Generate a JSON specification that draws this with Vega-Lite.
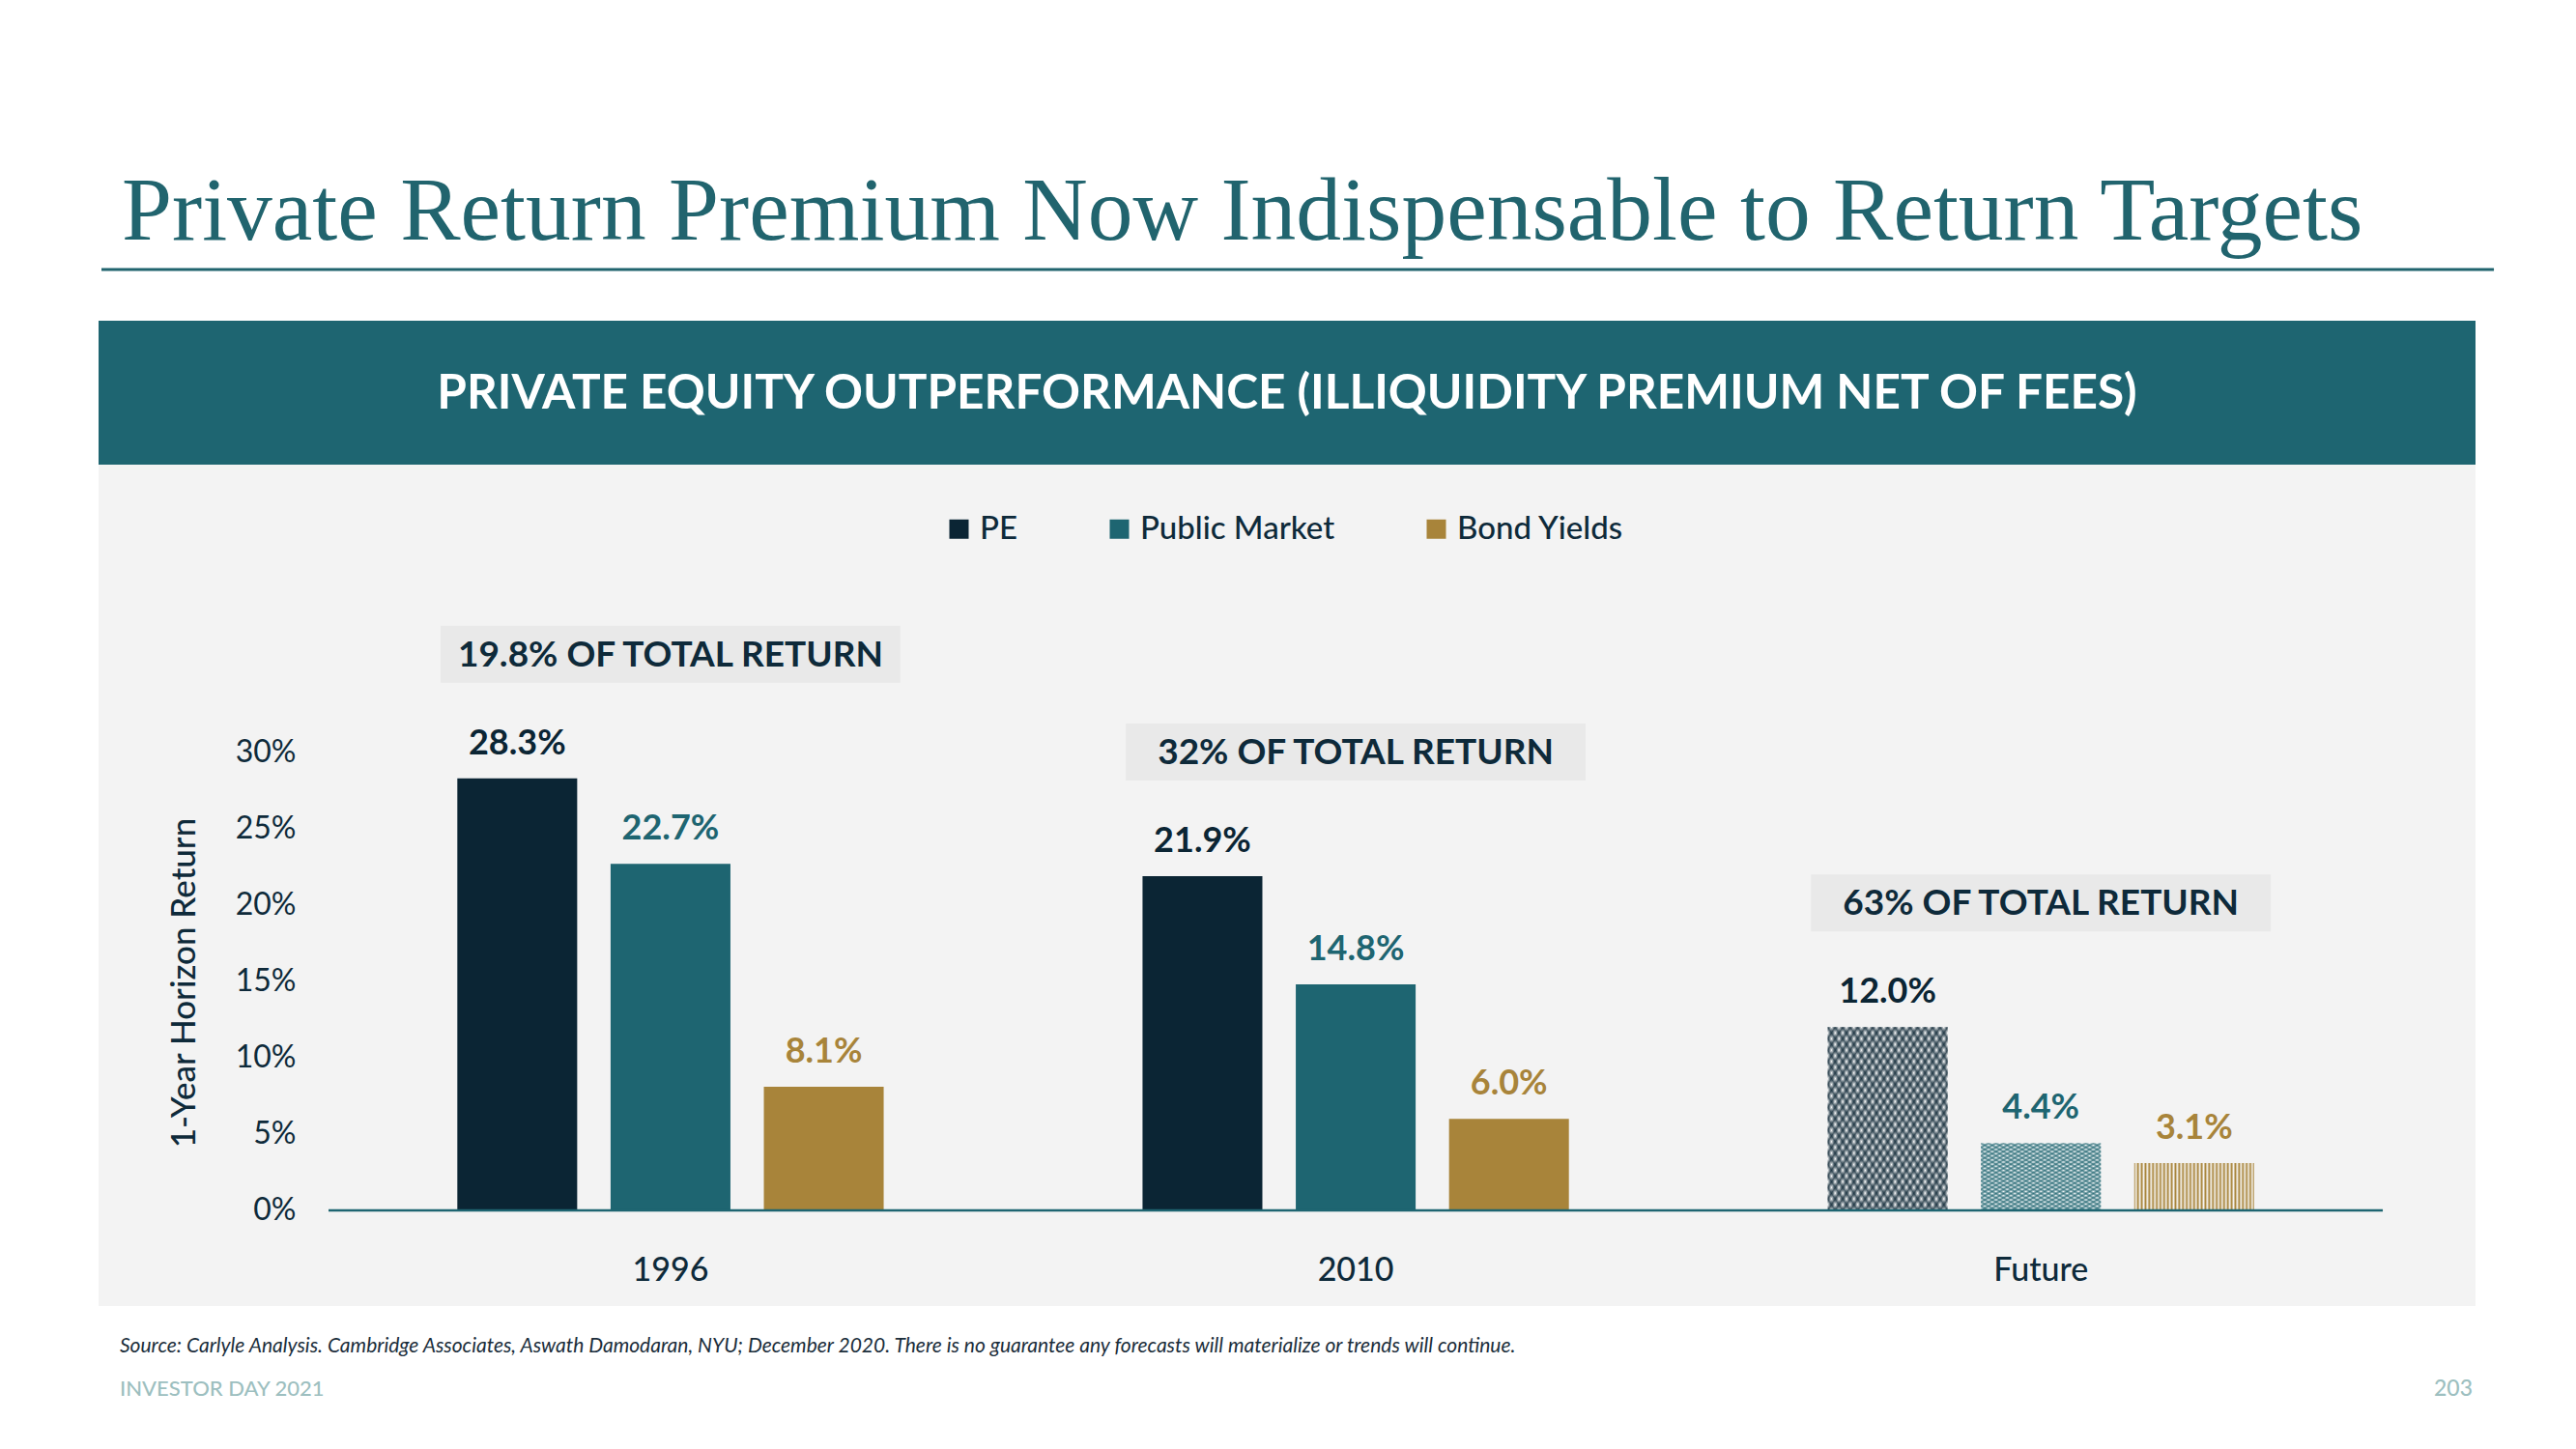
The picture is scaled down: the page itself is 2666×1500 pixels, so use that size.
{
"$schema":"https://vega.github.io/schema/vega-lite/v6.json",
"width":2460,"height":871,
"autosize":{"type":"none"},
"padding":{"left":102,"top":481,"right":104,"bottom":148},
"background":"#ffffff",
"title":{"text":"Private Return Premium Now Indispensable to Return Targets","anchor":"start","frame":"group","font":"Liberation Serif","fontSize":93.5,"fontWeight":"normal","color":"#21646e","dx":24,"offset":10},
"datasets":{
"returns":[
{"period":"1996","series":"PE","value":0.283,"note":"19.8% OF TOTAL RETURN"},
{"period":"1996","series":"Public Market","value":0.227,"note":"19.8% OF TOTAL RETURN"},
{"period":"1996","series":"Bond Yields","value":0.081,"note":"19.8% OF TOTAL RETURN"},
{"period":"2010","series":"PE","value":0.219,"note":"32% OF TOTAL RETURN"},
{"period":"2010","series":"Public Market","value":0.148,"note":"32% OF TOTAL RETURN"},
{"period":"2010","series":"Bond Yields","value":0.06,"note":"32% OF TOTAL RETURN"},
{"period":"Future","series":"PE","value":0.12,"note":"63% OF TOTAL RETURN"},
{"period":"Future","series":"Public Market","value":0.044,"note":"63% OF TOTAL RETURN"},
{"period":"Future","series":"Bond Yields","value":0.031,"note":"63% OF TOTAL RETURN"}
],
"deco":[{}]
},
"data":{"name":"returns"},
"layer":[
{"data":{"name":"deco"},"mark":{"type":"rect","color":"#1e6571"},"encoding":{"y":{"datum":0.4886,"type":"quantitative"},"y2":{"datum":0.5829}}},
{"data":{"name":"deco"},"mark":{"type":"rule","color":"#21646e","strokeWidth":3},"encoding":{"x":{"datum":"1996","type":"nominal","bandPosition":-0.7377},"x2":{"datum":"Future","bandPosition":1.4853},"y":{"datum":0.6165,"type":"quantitative"}}},
{"data":{"name":"deco"},"mark":{"type":"text","text":"PRIVATE EQUITY OUTPERFORMANCE (ILLIQUIDITY PREMIUM NET OF FEES)","color":"#ffffff","font":"Lato","fontWeight":"bold","fontSize":49.5,"baseline":"middle","align":"center","dy":2},"encoding":{"y":{"datum":0.5358,"type":"quantitative"}}},
{"transform":[{"aggregate":[{"op":"max","field":"value","as":"top"}],"groupby":["period","note"]}],
 "mark":{"type":"rect","color":"#e9e9e9","yOffset":-99,"y2Offset":-158},
 "encoding":{"x":{"field":"period","type":"nominal"},"y":{"field":"top","type":"quantitative"},"y2":{"field":"top"}}},
{"transform":[{"aggregate":[{"op":"max","field":"value","as":"top"}],"groupby":["period","note"]}],
 "mark":{"type":"text","color":"#0e2a3a","font":"Lato","fontWeight":"bold","fontSize":37,"baseline":"middle","align":"center","dy":-127},
 "encoding":{"x":{"field":"period","type":"nominal"},"y":{"field":"top","type":"quantitative"},"text":{"field":"note"}}},
{"transform":[{"filter":"datum.period !== 'Future'"}],
 "mark":{"type":"bar"},
 "encoding":{
  "x":{"field":"period","type":"nominal","scale":{"domain":["1996","2010","Future"],"paddingInner":0.329,"paddingOuter":0.399,"align":0.6256},
   "axis":{"title":null,"orient":"bottom","offset":-99,"domain":false,"ticks":false,"tickSize":0,"grid":false,"labelPadding":62,"labelBaseline":"middle","labelAlign":"center","labelAngle":0,"labelFont":"Lato","labelFontSize":34,"labelFontWeight":500,"labelColor":"#0e2a3a"}},
  "xOffset":{"field":"series","type":"nominal","scale":{"domain":["PE","Public Market","Bond Yields"],"paddingInner":0.218,"paddingOuter":0.109}},
  "y":{"field":"value","type":"quantitative","scale":{"domain":[-0.0627,0.4886],"nice":false,"zero":false},
   "axis":{"title":"1-Year Horizon Return","values":[0,0.05,0.1,0.15,0.2,0.25,0.3],"format":".0%","offset":-204,"domain":false,"ticks":false,"tickSize":0,"grid":false,"labelPadding":0,"labelFont":"Lato","labelFontSize":32,"labelColor":"#0e2a3a","titleFont":"Lato","titleFontSize":35,"titleFontWeight":500,"titleColor":"#0e2a3a","titleAngle":-90,"titleX":-116,"titleY":536,"titleAlign":"center","titleBaseline":"middle"}},
  "color":{"field":"series","type":"nominal","scale":{"domain":["PE","Public Market","Bond Yields"],"range":["#0b2534","#1e6571","#a8843a"]},
   "legend":{"title":null,"orient":"none","legendX":874,"legendY":50,"direction":"horizontal","columns":3,"symbolType":"square","symbolSize":400,"symbolStrokeWidth":0,"labelFont":"Lato","labelFontSize":33,"labelFontWeight":500,"labelColor":"#0e2a3a","labelOffset":5,"columnPadding":88,"padding":0,"labelLimit":400}}
 }},
{"transform":[{"filter":"datum.period === 'Future'"}],
 "mark":{"type":"bar"},
 "encoding":{
  "x":{"field":"period","type":"nominal"},
  "xOffset":{"field":"series","type":"nominal"},
  "y":{"field":"value","type":"quantitative"},
  "fill":{"condition":[
   {"test":"datum.series === 'PE'","value":{"gradient":"linear","x1":0,"y1":0,"x2":1,"y2":1,"stops":[{"offset":0,"color":"#4e5f69"},{"offset":0.016,"color":"#fff"},{"offset":0.031,"color":"#4e5f69"},{"offset":0.047,"color":"#fff"},{"offset":0.063,"color":"#4e5f69"},{"offset":0.078,"color":"#fff"},{"offset":0.094,"color":"#4e5f69"},{"offset":0.109,"color":"#fff"},{"offset":0.125,"color":"#4e5f69"},{"offset":0.141,"color":"#fff"},{"offset":0.156,"color":"#4e5f69"},{"offset":0.172,"color":"#fff"},{"offset":0.188,"color":"#4e5f69"},{"offset":0.203,"color":"#fff"},{"offset":0.219,"color":"#4e5f69"},{"offset":0.234,"color":"#fff"},{"offset":0.25,"color":"#4e5f69"},{"offset":0.266,"color":"#fff"},{"offset":0.281,"color":"#4e5f69"},{"offset":0.297,"color":"#fff"},{"offset":0.313,"color":"#4e5f69"},{"offset":0.328,"color":"#fff"},{"offset":0.344,"color":"#4e5f69"},{"offset":0.359,"color":"#fff"},{"offset":0.375,"color":"#4e5f69"},{"offset":0.391,"color":"#fff"},{"offset":0.406,"color":"#4e5f69"},{"offset":0.422,"color":"#fff"},{"offset":0.438,"color":"#4e5f69"},{"offset":0.453,"color":"#fff"},{"offset":0.469,"color":"#4e5f69"},{"offset":0.484,"color":"#fff"},{"offset":0.5,"color":"#4e5f69"},{"offset":0.516,"color":"#fff"},{"offset":0.531,"color":"#4e5f69"},{"offset":0.547,"color":"#fff"},{"offset":0.563,"color":"#4e5f69"},{"offset":0.578,"color":"#fff"},{"offset":0.594,"color":"#4e5f69"},{"offset":0.609,"color":"#fff"},{"offset":0.625,"color":"#4e5f69"},{"offset":0.641,"color":"#fff"},{"offset":0.656,"color":"#4e5f69"},{"offset":0.672,"color":"#fff"},{"offset":0.688,"color":"#4e5f69"},{"offset":0.703,"color":"#fff"},{"offset":0.719,"color":"#4e5f69"},{"offset":0.734,"color":"#fff"},{"offset":0.75,"color":"#4e5f69"},{"offset":0.766,"color":"#fff"},{"offset":0.781,"color":"#4e5f69"},{"offset":0.797,"color":"#fff"},{"offset":0.813,"color":"#4e5f69"},{"offset":0.828,"color":"#fff"},{"offset":0.844,"color":"#4e5f69"},{"offset":0.859,"color":"#fff"},{"offset":0.875,"color":"#4e5f69"},{"offset":0.891,"color":"#fff"},{"offset":0.906,"color":"#4e5f69"},{"offset":0.922,"color":"#fff"},{"offset":0.938,"color":"#4e5f69"},{"offset":0.953,"color":"#fff"},{"offset":0.969,"color":"#4e5f69"},{"offset":0.984,"color":"#fff"},{"offset":1,"color":"#4e5f69"}]}},
   {"test":"datum.series === 'Public Market'","value":{"gradient":"linear","x1":0,"y1":0,"x2":1,"y2":1,"stops":[{"offset":0,"color":"#5d8d95"},{"offset":0.016,"color":"#fff"},{"offset":0.031,"color":"#5d8d95"},{"offset":0.047,"color":"#fff"},{"offset":0.063,"color":"#5d8d95"},{"offset":0.078,"color":"#fff"},{"offset":0.094,"color":"#5d8d95"},{"offset":0.109,"color":"#fff"},{"offset":0.125,"color":"#5d8d95"},{"offset":0.141,"color":"#fff"},{"offset":0.156,"color":"#5d8d95"},{"offset":0.172,"color":"#fff"},{"offset":0.188,"color":"#5d8d95"},{"offset":0.203,"color":"#fff"},{"offset":0.219,"color":"#5d8d95"},{"offset":0.234,"color":"#fff"},{"offset":0.25,"color":"#5d8d95"},{"offset":0.266,"color":"#fff"},{"offset":0.281,"color":"#5d8d95"},{"offset":0.297,"color":"#fff"},{"offset":0.313,"color":"#5d8d95"},{"offset":0.328,"color":"#fff"},{"offset":0.344,"color":"#5d8d95"},{"offset":0.359,"color":"#fff"},{"offset":0.375,"color":"#5d8d95"},{"offset":0.391,"color":"#fff"},{"offset":0.406,"color":"#5d8d95"},{"offset":0.422,"color":"#fff"},{"offset":0.438,"color":"#5d8d95"},{"offset":0.453,"color":"#fff"},{"offset":0.469,"color":"#5d8d95"},{"offset":0.484,"color":"#fff"},{"offset":0.5,"color":"#5d8d95"},{"offset":0.516,"color":"#fff"},{"offset":0.531,"color":"#5d8d95"},{"offset":0.547,"color":"#fff"},{"offset":0.563,"color":"#5d8d95"},{"offset":0.578,"color":"#fff"},{"offset":0.594,"color":"#5d8d95"},{"offset":0.609,"color":"#fff"},{"offset":0.625,"color":"#5d8d95"},{"offset":0.641,"color":"#fff"},{"offset":0.656,"color":"#5d8d95"},{"offset":0.672,"color":"#fff"},{"offset":0.688,"color":"#5d8d95"},{"offset":0.703,"color":"#fff"},{"offset":0.719,"color":"#5d8d95"},{"offset":0.734,"color":"#fff"},{"offset":0.75,"color":"#5d8d95"},{"offset":0.766,"color":"#fff"},{"offset":0.781,"color":"#5d8d95"},{"offset":0.797,"color":"#fff"},{"offset":0.813,"color":"#5d8d95"},{"offset":0.828,"color":"#fff"},{"offset":0.844,"color":"#5d8d95"},{"offset":0.859,"color":"#fff"},{"offset":0.875,"color":"#5d8d95"},{"offset":0.891,"color":"#fff"},{"offset":0.906,"color":"#5d8d95"},{"offset":0.922,"color":"#fff"},{"offset":0.938,"color":"#5d8d95"},{"offset":0.953,"color":"#fff"},{"offset":0.969,"color":"#5d8d95"},{"offset":0.984,"color":"#fff"},{"offset":1,"color":"#5d8d95"}]}}],
   "value":{"gradient":"linear","x1":0,"y1":0,"x2":1,"y2":0,"stops":[{"offset":0,"color":"#a8843a"},{"offset":0.016,"color":"#f5f3ef"},{"offset":0.031,"color":"#a8843a"},{"offset":0.047,"color":"#f5f3ef"},{"offset":0.063,"color":"#a8843a"},{"offset":0.078,"color":"#f5f3ef"},{"offset":0.094,"color":"#a8843a"},{"offset":0.109,"color":"#f5f3ef"},{"offset":0.125,"color":"#a8843a"},{"offset":0.141,"color":"#f5f3ef"},{"offset":0.156,"color":"#a8843a"},{"offset":0.172,"color":"#f5f3ef"},{"offset":0.188,"color":"#a8843a"},{"offset":0.203,"color":"#f5f3ef"},{"offset":0.219,"color":"#a8843a"},{"offset":0.234,"color":"#f5f3ef"},{"offset":0.25,"color":"#a8843a"},{"offset":0.266,"color":"#f5f3ef"},{"offset":0.281,"color":"#a8843a"},{"offset":0.297,"color":"#f5f3ef"},{"offset":0.313,"color":"#a8843a"},{"offset":0.328,"color":"#f5f3ef"},{"offset":0.344,"color":"#a8843a"},{"offset":0.359,"color":"#f5f3ef"},{"offset":0.375,"color":"#a8843a"},{"offset":0.391,"color":"#f5f3ef"},{"offset":0.406,"color":"#a8843a"},{"offset":0.422,"color":"#f5f3ef"},{"offset":0.438,"color":"#a8843a"},{"offset":0.453,"color":"#f5f3ef"},{"offset":0.469,"color":"#a8843a"},{"offset":0.484,"color":"#f5f3ef"},{"offset":0.5,"color":"#a8843a"},{"offset":0.516,"color":"#f5f3ef"},{"offset":0.531,"color":"#a8843a"},{"offset":0.547,"color":"#f5f3ef"},{"offset":0.563,"color":"#a8843a"},{"offset":0.578,"color":"#f5f3ef"},{"offset":0.594,"color":"#a8843a"},{"offset":0.609,"color":"#f5f3ef"},{"offset":0.625,"color":"#a8843a"},{"offset":0.641,"color":"#f5f3ef"},{"offset":0.656,"color":"#a8843a"},{"offset":0.672,"color":"#f5f3ef"},{"offset":0.688,"color":"#a8843a"},{"offset":0.703,"color":"#f5f3ef"},{"offset":0.719,"color":"#a8843a"},{"offset":0.734,"color":"#f5f3ef"},{"offset":0.75,"color":"#a8843a"},{"offset":0.766,"color":"#f5f3ef"},{"offset":0.781,"color":"#a8843a"},{"offset":0.797,"color":"#f5f3ef"},{"offset":0.813,"color":"#a8843a"},{"offset":0.828,"color":"#f5f3ef"},{"offset":0.844,"color":"#a8843a"},{"offset":0.859,"color":"#f5f3ef"},{"offset":0.875,"color":"#a8843a"},{"offset":0.891,"color":"#f5f3ef"},{"offset":0.906,"color":"#a8843a"},{"offset":0.922,"color":"#f5f3ef"},{"offset":0.938,"color":"#a8843a"},{"offset":0.953,"color":"#f5f3ef"},{"offset":0.969,"color":"#a8843a"},{"offset":0.984,"color":"#f5f3ef"},{"offset":1,"color":"#a8843a"}]}}
 }},
{"transform":[{"filter":"datum.period === 'Future' && datum.series !== 'Bond Yields'"}],
 "mark":{"type":"bar"},
 "encoding":{
  "x":{"field":"period","type":"nominal"},
  "xOffset":{"field":"series","type":"nominal"},
  "y":{"field":"value","type":"quantitative"},
  "fill":{"condition":{"test":"datum.series === 'PE'","value":{"gradient":"linear","x1":1,"y1":0,"x2":0,"y2":1,"stops":[{"offset":0,"color":"rgba(11,37,52,0.7)"},{"offset":0.016,"color":"rgba(11,37,52,0)"},{"offset":0.031,"color":"rgba(11,37,52,0.7)"},{"offset":0.047,"color":"rgba(11,37,52,0)"},{"offset":0.063,"color":"rgba(11,37,52,0.7)"},{"offset":0.078,"color":"rgba(11,37,52,0)"},{"offset":0.094,"color":"rgba(11,37,52,0.7)"},{"offset":0.109,"color":"rgba(11,37,52,0)"},{"offset":0.125,"color":"rgba(11,37,52,0.7)"},{"offset":0.141,"color":"rgba(11,37,52,0)"},{"offset":0.156,"color":"rgba(11,37,52,0.7)"},{"offset":0.172,"color":"rgba(11,37,52,0)"},{"offset":0.188,"color":"rgba(11,37,52,0.7)"},{"offset":0.203,"color":"rgba(11,37,52,0)"},{"offset":0.219,"color":"rgba(11,37,52,0.7)"},{"offset":0.234,"color":"rgba(11,37,52,0)"},{"offset":0.25,"color":"rgba(11,37,52,0.7)"},{"offset":0.266,"color":"rgba(11,37,52,0)"},{"offset":0.281,"color":"rgba(11,37,52,0.7)"},{"offset":0.297,"color":"rgba(11,37,52,0)"},{"offset":0.313,"color":"rgba(11,37,52,0.7)"},{"offset":0.328,"color":"rgba(11,37,52,0)"},{"offset":0.344,"color":"rgba(11,37,52,0.7)"},{"offset":0.359,"color":"rgba(11,37,52,0)"},{"offset":0.375,"color":"rgba(11,37,52,0.7)"},{"offset":0.391,"color":"rgba(11,37,52,0)"},{"offset":0.406,"color":"rgba(11,37,52,0.7)"},{"offset":0.422,"color":"rgba(11,37,52,0)"},{"offset":0.438,"color":"rgba(11,37,52,0.7)"},{"offset":0.453,"color":"rgba(11,37,52,0)"},{"offset":0.469,"color":"rgba(11,37,52,0.7)"},{"offset":0.484,"color":"rgba(11,37,52,0)"},{"offset":0.5,"color":"rgba(11,37,52,0.7)"},{"offset":0.516,"color":"rgba(11,37,52,0)"},{"offset":0.531,"color":"rgba(11,37,52,0.7)"},{"offset":0.547,"color":"rgba(11,37,52,0)"},{"offset":0.563,"color":"rgba(11,37,52,0.7)"},{"offset":0.578,"color":"rgba(11,37,52,0)"},{"offset":0.594,"color":"rgba(11,37,52,0.7)"},{"offset":0.609,"color":"rgba(11,37,52,0)"},{"offset":0.625,"color":"rgba(11,37,52,0.7)"},{"offset":0.641,"color":"rgba(11,37,52,0)"},{"offset":0.656,"color":"rgba(11,37,52,0.7)"},{"offset":0.672,"color":"rgba(11,37,52,0)"},{"offset":0.688,"color":"rgba(11,37,52,0.7)"},{"offset":0.703,"color":"rgba(11,37,52,0)"},{"offset":0.719,"color":"rgba(11,37,52,0.7)"},{"offset":0.734,"color":"rgba(11,37,52,0)"},{"offset":0.75,"color":"rgba(11,37,52,0.7)"},{"offset":0.766,"color":"rgba(11,37,52,0)"},{"offset":0.781,"color":"rgba(11,37,52,0.7)"},{"offset":0.797,"color":"rgba(11,37,52,0)"},{"offset":0.813,"color":"rgba(11,37,52,0.7)"},{"offset":0.828,"color":"rgba(11,37,52,0)"},{"offset":0.844,"color":"rgba(11,37,52,0.7)"},{"offset":0.859,"color":"rgba(11,37,52,0)"},{"offset":0.875,"color":"rgba(11,37,52,0.7)"},{"offset":0.891,"color":"rgba(11,37,52,0)"},{"offset":0.906,"color":"rgba(11,37,52,0.7)"},{"offset":0.922,"color":"rgba(11,37,52,0)"},{"offset":0.938,"color":"rgba(11,37,52,0.7)"},{"offset":0.953,"color":"rgba(11,37,52,0)"},{"offset":0.969,"color":"rgba(11,37,52,0.7)"},{"offset":0.984,"color":"rgba(11,37,52,0)"},{"offset":1,"color":"rgba(11,37,52,0.7)"}]}},
   "value":{"gradient":"linear","x1":1,"y1":0,"x2":0,"y2":1,"stops":[{"offset":0,"color":"rgba(30,101,113,0.7)"},{"offset":0.016,"color":"rgba(30,101,113,0)"},{"offset":0.031,"color":"rgba(30,101,113,0.7)"},{"offset":0.047,"color":"rgba(30,101,113,0)"},{"offset":0.063,"color":"rgba(30,101,113,0.7)"},{"offset":0.078,"color":"rgba(30,101,113,0)"},{"offset":0.094,"color":"rgba(30,101,113,0.7)"},{"offset":0.109,"color":"rgba(30,101,113,0)"},{"offset":0.125,"color":"rgba(30,101,113,0.7)"},{"offset":0.141,"color":"rgba(30,101,113,0)"},{"offset":0.156,"color":"rgba(30,101,113,0.7)"},{"offset":0.172,"color":"rgba(30,101,113,0)"},{"offset":0.188,"color":"rgba(30,101,113,0.7)"},{"offset":0.203,"color":"rgba(30,101,113,0)"},{"offset":0.219,"color":"rgba(30,101,113,0.7)"},{"offset":0.234,"color":"rgba(30,101,113,0)"},{"offset":0.25,"color":"rgba(30,101,113,0.7)"},{"offset":0.266,"color":"rgba(30,101,113,0)"},{"offset":0.281,"color":"rgba(30,101,113,0.7)"},{"offset":0.297,"color":"rgba(30,101,113,0)"},{"offset":0.313,"color":"rgba(30,101,113,0.7)"},{"offset":0.328,"color":"rgba(30,101,113,0)"},{"offset":0.344,"color":"rgba(30,101,113,0.7)"},{"offset":0.359,"color":"rgba(30,101,113,0)"},{"offset":0.375,"color":"rgba(30,101,113,0.7)"},{"offset":0.391,"color":"rgba(30,101,113,0)"},{"offset":0.406,"color":"rgba(30,101,113,0.7)"},{"offset":0.422,"color":"rgba(30,101,113,0)"},{"offset":0.438,"color":"rgba(30,101,113,0.7)"},{"offset":0.453,"color":"rgba(30,101,113,0)"},{"offset":0.469,"color":"rgba(30,101,113,0.7)"},{"offset":0.484,"color":"rgba(30,101,113,0)"},{"offset":0.5,"color":"rgba(30,101,113,0.7)"},{"offset":0.516,"color":"rgba(30,101,113,0)"},{"offset":0.531,"color":"rgba(30,101,113,0.7)"},{"offset":0.547,"color":"rgba(30,101,113,0)"},{"offset":0.563,"color":"rgba(30,101,113,0.7)"},{"offset":0.578,"color":"rgba(30,101,113,0)"},{"offset":0.594,"color":"rgba(30,101,113,0.7)"},{"offset":0.609,"color":"rgba(30,101,113,0)"},{"offset":0.625,"color":"rgba(30,101,113,0.7)"},{"offset":0.641,"color":"rgba(30,101,113,0)"},{"offset":0.656,"color":"rgba(30,101,113,0.7)"},{"offset":0.672,"color":"rgba(30,101,113,0)"},{"offset":0.688,"color":"rgba(30,101,113,0.7)"},{"offset":0.703,"color":"rgba(30,101,113,0)"},{"offset":0.719,"color":"rgba(30,101,113,0.7)"},{"offset":0.734,"color":"rgba(30,101,113,0)"},{"offset":0.75,"color":"rgba(30,101,113,0.7)"},{"offset":0.766,"color":"rgba(30,101,113,0)"},{"offset":0.781,"color":"rgba(30,101,113,0.7)"},{"offset":0.797,"color":"rgba(30,101,113,0)"},{"offset":0.813,"color":"rgba(30,101,113,0.7)"},{"offset":0.828,"color":"rgba(30,101,113,0)"},{"offset":0.844,"color":"rgba(30,101,113,0.7)"},{"offset":0.859,"color":"rgba(30,101,113,0)"},{"offset":0.875,"color":"rgba(30,101,113,0.7)"},{"offset":0.891,"color":"rgba(30,101,113,0)"},{"offset":0.906,"color":"rgba(30,101,113,0.7)"},{"offset":0.922,"color":"rgba(30,101,113,0)"},{"offset":0.938,"color":"rgba(30,101,113,0.7)"},{"offset":0.953,"color":"rgba(30,101,113,0)"},{"offset":0.969,"color":"rgba(30,101,113,0.7)"},{"offset":0.984,"color":"rgba(30,101,113,0)"},{"offset":1,"color":"rgba(30,101,113,0.7)"}]}}
 }},
{"mark":{"type":"text","font":"Lato","fontWeight":"bold","fontSize":36,"baseline":"alphabetic","align":"center","dy":-25},
 "encoding":{
  "x":{"field":"period","type":"nominal"},
  "xOffset":{"field":"series","type":"nominal"},
  "y":{"field":"value","type":"quantitative"},
  "text":{"field":"value","type":"quantitative","format":".1%"},
  "color":{"field":"series","type":"nominal"}
 }},
{"data":{"name":"deco"},"mark":{"type":"rule","color":"#1e6571","strokeWidth":2.5},
 "encoding":{"x":{"datum":"1996","type":"nominal","bandPosition":-0.2438},"x2":{"datum":"Future","bandPosition":1.2436},"y":{"datum":0,"type":"quantitative"}}},
{"data":{"name":"deco"},"mark":{"type":"text","text":"Source: Carlyle Analysis. Cambridge Associates, Aswath Damodaran, NYU; December 2020.  There is no guarantee any forecasts will materialize or trends will continue.","font":"Lato","fontStyle":"italic","fontSize":21,"color":"#1b2e3b","align":"left","baseline":"middle","dx":-1208},
 "encoding":{"y":{"datum":-0.0892,"type":"quantitative"}}},
{"data":{"name":"deco"},"mark":{"type":"text","text":"INVESTOR DAY 2021","font":"Lato","fontWeight":500,"fontSize":22,"color":"#9dbfc0","align":"left","baseline":"middle","dx":-1208},
 "encoding":{"y":{"datum":-0.1174,"type":"quantitative"}}},
{"data":{"name":"deco"},"mark":{"type":"text","text":"203","font":"Lato","fontWeight":500,"fontSize":23,"color":"#9dbfc0","align":"right","baseline":"middle","dx":1227},
 "encoding":{"y":{"datum":-0.1174,"type":"quantitative"}}}
],
"config":{"view":{"fill":"#f3f3f3","stroke":null},"font":"Lato"}
}
